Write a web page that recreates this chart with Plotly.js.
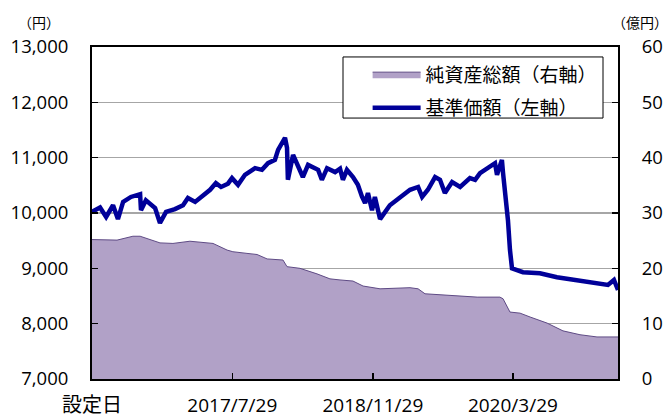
<!DOCTYPE html>
<html><head><meta charset="utf-8">
<script src="https://cdn.plot.ly/plotly-3.0.1.min.js"></script>
<style>html,body{margin:0;padding:0;background:#fff}#chart{width:671px;height:419px}</style>
</head><body><div id="chart"></div>
<script>
// 基準価額 (left axis, 円)
const priceDates = ['2016-03-29','2016-04-26','2016-05-17','2016-06-10','2016-06-27','2016-07-15','2016-08-11','2016-09-12','2016-09-15','2016-10-02','2016-11-03','2016-11-20','2016-12-11','2017-01-11','2017-02-08','2017-02-25','2017-03-22','2017-04-18','2017-05-13','2017-06-02','2017-06-20','2017-07-14','2017-07-28','2017-08-18','2017-09-11','2017-10-16','2017-11-09','2017-11-30','2017-12-24','2018-01-04','2018-01-28','2018-02-04','2018-02-07','2018-02-25','2018-03-11','2018-03-31','2018-04-18','2018-05-23','2018-06-05','2018-06-23','2018-07-21','2018-08-07','2018-08-17','2018-08-31','2018-09-21','2018-10-08','2018-10-22','2018-11-02','2018-11-12','2018-11-26','2018-12-06','2018-12-24','2019-01-27','2019-03-03','2019-04-07','2019-05-05','2019-05-19','2019-06-08','2019-07-03','2019-07-20','2019-08-06','2019-08-31','2019-09-28','2019-11-01','2019-11-19','2019-12-06','2020-01-03','2020-01-27','2020-02-03','2020-02-20','2020-02-24','2020-03-02','2020-03-09','2020-03-12','2020-03-19','2020-03-26','2020-05-03','2020-07-01','2020-08-29','2020-10-24','2020-12-22','2021-02-05','2021-02-22','2021-03-15','2021-03-29'];
const priceValues = [10020,10100,9930,10140,9890,10200,10290,10340,10050,10230,10090,9820,10020,10070,10140,10270,10200,10320,10420,10540,10470,10530,10630,10510,10690,10810,10780,10900,10960,11140,11360,11180,10600,11050,10870,10650,10870,10780,10600,10810,10740,10800,10600,10780,10650,10510,10300,10180,10360,10050,10290,9890,10140,10270,10420,10470,10290,10420,10650,10600,10360,10560,10470,10630,10600,10720,10810,10900,10690,10960,10720,10360,10110,9870,9330,9000,8930,8910,8840,8790,8750,8700,8700,8790,8610];

// 純資産総額 (right axis, 億円)
const navDates = ['2016-03-29','2016-06-24','2016-08-18','2016-09-12','2016-11-20','2017-01-04','2017-03-04','2017-05-02','2017-05-23','2017-07-11','2017-07-31','2017-09-18','2017-10-23','2017-11-27','2018-01-21','2018-02-04','2018-03-21','2018-05-19','2018-07-03','2018-08-07','2018-09-21','2018-10-26','2018-12-24','2019-04-07','2019-05-05','2019-05-29','2019-08-13','2019-11-26','2020-02-13','2020-02-24','2020-03-19','2020-04-23','2020-05-28','2020-07-26','2020-09-19','2020-11-17','2021-01-15','2021-03-29'];
const navValues = [25.2,25.1,25.8,25.8,24.6,24.5,24.9,24.7,24.5,23.3,23.0,22.7,22.5,21.7,21.5,20.3,20.0,19.0,18.1,17.9,17.7,16.8,16.3,16.5,16.3,15.4,15.2,14.8,14.8,14.5,12.1,11.9,11.2,10.1,8.7,8.0,7.6,7.6];

const xTickVals = ['2016-03-29','2017-07-29','2018-11-29','2020-03-29'];
const xTickText = ['<span style="font-size:20px">設定日</span>','2017/7/29','2018/11/29','2020/3/29'];
const navName = '純資産総額（右軸）';
const priceName = '基準価額（左軸）';

const FONT = 'Open Sans, Noto Sans CJK JP, sans-serif';
const JFONT = 'Noto Sans CJK JP, sans-serif';

const data = [
  {x: navDates, y: navValues, name: navName, type: 'scatter', mode: 'lines', yaxis: 'y2',
   fill: 'tozeroy', fillcolor: '#b1a1c7', line: {color: '#5f4b85', width: 1}, legendgroup: 'a'},
  {x: priceDates, y: priceValues, name: priceName, type: 'scatter', mode: 'lines', yaxis: 'y',
   line: {color: '#000099', width: 4.5}, legendgroup: 'b'}
];

const layout = {
  width: 671, height: 419,
  margin: {l: 92, r: 53, t: 47, b: 40},
  paper_bgcolor: '#fff', plot_bgcolor: '#fff',
  font: {family: FONT, size: 19, color: '#000'},
  showlegend: true,
  legend: {x: 0.524, y: 0.975, xanchor: 'left', yanchor: 'top', bgcolor: 'rgba(0,0,0,0)',
           borderwidth: 0, font: {family: JFONT, size: 19}, tracegroupgap: 6, itemwidth: 48},
  shapes: [
    {type: 'rect', xref: 'paper', yref: 'paper', x0: 0.4772, x1: 0.9715, y0: 0.786, y1: 0.970,
     fillcolor: '#fff', line: {color: '#000', width: 1}, layer: 'above'}
  ],
  xaxis: {type: 'date', range: ['2016-03-29','2021-03-29'], tickvals: xTickVals, ticktext: xTickText,
          ticks: 'inside', ticklen: 6, tickwidth: 1.5, tickcolor: '#000',
          showline: true, linecolor: '#000', linewidth: 2, mirror: true, showgrid: false,
          ticklabelstandoff: 8, tickfont: {family: FONT, size: 19}, zeroline: false},
  yaxis: {range: [7000, 13000], dtick: 1000, tickformat: ',d', ticks: 'inside', ticklen: 6,
          tickwidth: 1.5, tickcolor: '#000', showline: true, linecolor: '#000', linewidth: 2,
          showgrid: true, gridcolor: '#a6a6a6', gridwidth: 1.5, zeroline: false,
          ticklabelstandoff: 18, tickfont: {family: FONT, size: 18.5}},
  yaxis2: {range: [0, 60], dtick: 10, overlaying: 'y', side: 'right', ticks: 'inside', ticklen: 6,
           tickwidth: 1.5, tickcolor: '#000', showline: true, linecolor: '#000', linewidth: 2,
           showgrid: false, zeroline: false, ticklabelstandoff: 18, tickfont: {family: FONT, size: 18.5}},
  annotations: [
    {text: '（円）', xref: 'paper', yref: 'paper', x: -0.1008, y: 1.076, showarrow: false,
     xanchor: 'center', yanchor: 'middle', font: {family: JFONT, size: 14}},
    {text: '（億円）', xref: 'paper', yref: 'paper', x: 1.042, y: 1.076, showarrow: false,
     xanchor: 'center', yanchor: 'middle', font: {family: JFONT, size: 14}}
  ]
};

Plotly.newPlot('chart', data, layout, {displayModeBar: false, staticPlot: true});
</script></body></html>
